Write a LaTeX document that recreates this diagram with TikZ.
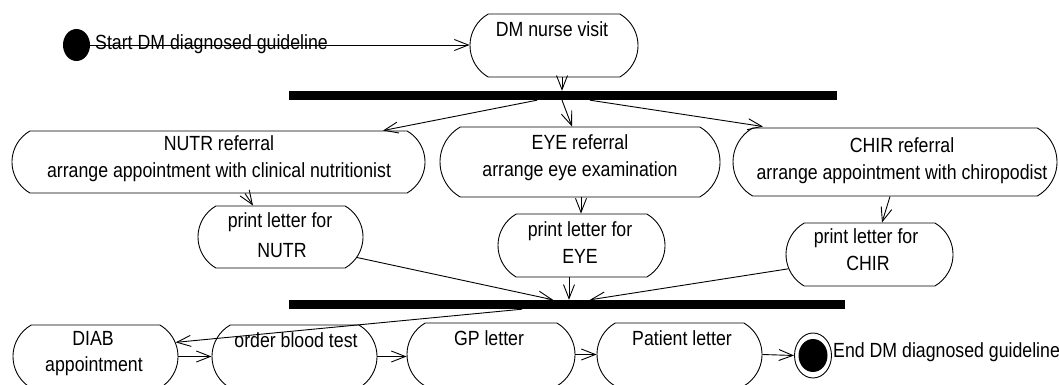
\documentclass[tikz,border=0pt]{standalone}
\usepackage{fontspec}
\setmainfont{Liberation Sans}[FakeStretch=0.865]
\usetikzlibrary{shapes.misc,shapes.geometric,arrows.meta}
\begin{document}
\begin{tikzpicture}[x=1pt,y=-1pt,
  act/.style={draw, line width=0.9pt, rounded rectangle, rounded rectangle arc length=120, inner sep=0pt},
  bar/.style={fill=black, inner sep=0pt, minimum height=9pt},
  lbl/.style={inner sep=0pt, anchor=base, font=\fontsize{20.5}{24}\selectfont},
  flow/.style={line width=0.9pt, -{Straight Barb[length=14pt,width=11pt,line width=0.9pt]}},
  initial/.style={ellipse, fill=black, inner sep=0pt},
]
\useasboundingbox (0,0) rectangle (1059,385);

% start and first activity
\node[initial, minimum width=27, minimum height=32] (start) at (76.5,45) {};
\node[act, minimum width=168, minimum height=63] (nurse) at (554,45.5) {};
\node[bar, minimum width=548] (fork1) at (563,95.5) {};

% referral activities
\node[act, minimum width=413, minimum height=62] (NUTR) at (218.5,162) {};
\node[act, minimum width=280, minimum height=70] (EYE)  at (580,162) {};
\node[act, minimum width=324, minimum height=68] (CHIR) at (895,162) {};

% letters
\node[act, minimum width=165, minimum height=62] (printN) at (280.5,237) {};
\node[act, minimum width=167, minimum height=63] (printE) at (581.5,245.5) {};
\node[act, minimum width=167, minimum height=63] (printC) at (869.5,254.5) {};

\node[bar, minimum width=556] (fork2) at (567,304.5) {};

% final row
\node[act, minimum width=165, minimum height=63] (DIAB)    at (95.5,356.5) {};
\node[act, minimum width=165, minimum height=63] (order)   at (294.5,356.5) {};
\node[act, minimum width=168, minimum height=63] (GP)      at (491,354.5) {};
\node[act, minimum width=165, minimum height=63] (patient) at (679.5,354.5) {};
\node[ellipse, draw, line width=0.9pt, inner sep=0pt, minimum width=37, minimum height=45] (endo) at (813,355.5) {};
\node[initial, minimum width=29, minimum height=33] (endi) at (endo.center) {};

% connectors
\draw[flow] (start.east) -- (start.east -| nurse.west);
\draw[flow] ([xshift=8pt]nurse.south) -- ([xshift=-1pt]fork1.north);
\draw[flow] ([xshift=-26pt]fork1.south) -- ([xshift=164.5pt]NUTR.north);
\draw[flow] ([xshift=-1pt]fork1.south) -- ([xshift=-8pt]EYE.north);
\draw[flow] ([xshift=27pt]fork1.south) -- ([xshift=-132pt,yshift=1pt]CHIR.north);
\draw[flow] ([xshift=26.5pt]NUTR.south) -- ([xshift=-27.5pt]printN.north);
\draw[flow] ([xshift=1pt]EYE.south) -- ([xshift=-0.5pt]printE.north);
\draw[flow] ([xshift=-5pt]CHIR.south) -- ([xshift=12.5pt]printC.north);
\draw[flow] (printN.-15) -- ([xshift=-14pt]fork2.north);
\draw[flow] ([xshift=-12.5pt]printE.south) -- ([xshift=2pt]fork2.north);
\draw[flow] (printC.190) -- ([xshift=23pt]fork2.north);
\draw[flow] ([xshift=-45pt]fork2.south) -- (DIAB.10);
\draw[flow] (DIAB.east) -- (order.west);
\draw[flow] (order.east) -- (order.east -| GP.west);
\draw[flow] (GP.east) -- (patient.west);
\draw[flow] (patient.east) -- (endo.west);

% texts
\node[lbl, anchor=base west] (tStart) at (95,50) {Start DM diagnosed guideline};
\node[lbl] (tNurse) at (552,37) {DM nurse visit};
\node[lbl] (tNUTR1) at (219,150) {NUTR referral};
\node[lbl] (tNUTR2) at (219,177) {arrange appointment with clinical nutritionist};
\node[lbl] (tEYE1) at (580,149) {EYE referral};
\node[lbl] (tEYE2) at (580,176) {arrange eye examination};
\node[lbl] (tCHIR1) at (902,152) {CHIR referral};
\node[lbl] (tCHIR2) at (902,179) {arrange appointment with chiropodist};
\node[lbl] (tPN1) at (280,227) {print letter for};
\node[lbl] (tPN2) at (282,257) {NUTR};
\node[lbl] (tPE1) at (580,236) {print letter for};
\node[lbl] (tPE2) at (580,263) {EYE};
\node[lbl] (tPC1) at (866,243) {print letter for};
\node[lbl] (tPC2) at (868,270) {CHIR};
\node[lbl] (tDIAB1) at (93,345) {DIAB};
\node[lbl] (tDIAB2) at (94,371) {appointment};
\node[lbl] (tOrder) at (296,347) {order blood test};
\node[lbl] (tGP) at (489,345) {GP letter};
\node[lbl] (tPat) at (682,345) {Patient letter};
\node[lbl, anchor=base west] (tEnd) at (833,357) {End DM diagnosed guideline};
\end{tikzpicture}
\end{document}
